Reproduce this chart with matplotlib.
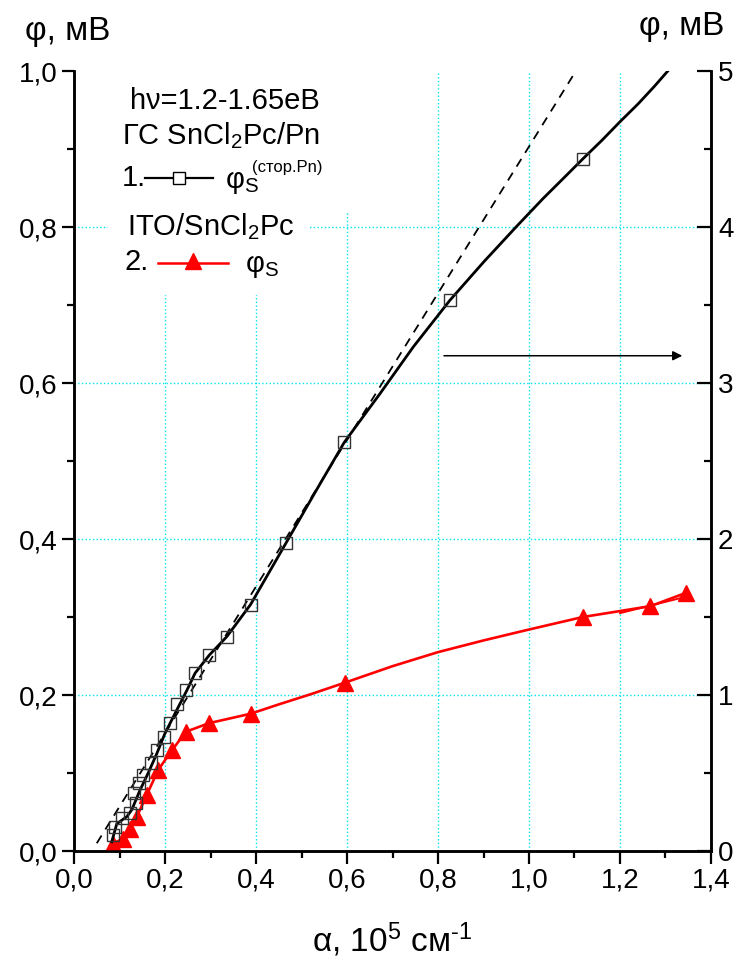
#!/usr/bin/env python3

import matplotlib
import matplotlib.pyplot as plt
from matplotlib.patches import Rectangle
from matplotlib.ticker import MultipleLocator

matplotlib.use('Agg')

plt.rcParams['font.family'] = ['Liberation Sans', 'DejaVu Sans']
plt.rcParams['mathtext.fontset'] = 'custom'
plt.rcParams['mathtext.rm'] = 'Liberation Sans'
plt.rcParams['mathtext.it'] = 'Liberation Sans'

# ряд 1: ГС SnCl2Pc/Pn, правая ось (мВ)
sq_x = [0.086, 0.090, 0.105, 0.123, 0.136, 0.132, 0.143, 0.152, 0.169, 0.182,
        0.198, 0.211, 0.227, 0.246, 0.266, 0.297, 0.336, 0.388, 0.466, 0.594,
        0.826, 1.118]
sq_y = [0.105, 0.155, 0.21, 0.245, 0.31, 0.37, 0.435, 0.485, 0.565, 0.645,
        0.73, 0.82, 0.94, 1.035, 1.14, 1.255, 1.375, 1.58, 1.975, 2.62,
        3.53, 4.436]

# сглаженная кривая ряда 1
fit_x = [0.083, 0.094, 0.116, 0.127, 0.145, 0.163, 0.182, 0.200, 0.226, 0.248,
         0.266, 0.297, 0.336, 0.388, 0.466, 0.530, 0.594, 0.673, 0.746, 0.826,
         0.900, 0.973, 1.030, 1.080, 1.118, 1.160, 1.200, 1.240, 1.275, 1.305]
fit_y = [0.06, 0.175, 0.22, 0.265, 0.39, 0.50, 0.625, 0.755, 0.905, 1.03,
         1.14, 1.255, 1.375, 1.58, 1.975, 2.30, 2.62, 2.934, 3.233, 3.53,
         3.775, 4.005, 4.18, 4.325, 4.436, 4.555, 4.675, 4.79, 4.90, 5.0]

# линейная аппроксимация (пунктир)
lin_x = [0.050, 1.103]
lin_y = [0.05, 5.0]

# ряд 2: ITO/SnCl2Pc, левая ось (мВ)
tri_x = [0.086, 0.108, 0.123, 0.138, 0.160, 0.185, 0.215, 0.246, 0.297, 0.388,
         0.596, 1.118, 1.267, 1.345]
tri_y = [0.0096, 0.016, 0.028, 0.044, 0.072, 0.104, 0.129, 0.153, 0.164, 0.176,
         0.216, 0.300, 0.314, 0.331]

red_x = [0.086, 0.108, 0.123, 0.138, 0.160, 0.185, 0.215, 0.246, 0.297, 0.388,
         0.45, 0.52, 0.596, 0.70, 0.80, 0.90, 1.0, 1.118, 1.267, 1.345]
red_y = [0.0096, 0.016, 0.028, 0.044, 0.072, 0.104, 0.129, 0.153, 0.164, 0.176,
         0.188, 0.201, 0.216, 0.237, 0.255, 0.270, 0.284, 0.300, 0.314, 0.331]
red_tail_x = [1.20, 1.345]
red_tail_y = [0.305, 0.326]

xticks = [0.0, 0.2, 0.4, 0.6, 0.8, 1.0, 1.2, 1.4]
xtick_labels = ["0,0", "0,2", "0,4", "0,6", "0,8", "1,0", "1,2", "1,4"]
yticks = [0.0, 0.2, 0.4, 0.6, 0.8, 1.0]
ytick_labels = ["0,0", "0,2", "0,4", "0,6", "0,8", "1,0"]
y2ticks = [0, 1, 2, 3, 4, 5]
y2tick_labels = ["0", "1", "2", "3", "4", "5"]


def drawChart():
    fig = plt.figure(figsize=(7.41, 9.60), dpi=100)
    fig.subplots_adjust(left=0.0999, right=0.9595, bottom=0.1135, top=0.926)
    ax = fig.add_subplot(111)
    ax2 = ax.twinx()

    ax.set_xlim(0, 1.4)
    ax.set_ylim(0, 1.0)
    ax2.set_ylim(0, 5)

    # сетка
    for x in xticks[1:-1]:
        ax.axvline(x, color='#00e5ee', linestyle=':', lw=1, zorder=0)
    for y in yticks[1:-1]:
        ax.axhline(y, color='#00e5ee', linestyle=':', lw=1, zorder=0)

    # белая подложка под подписью
    ax.add_patch(Rectangle((0.053, 0.818), 0.38, 0.182, transform=ax.transAxes,
                           facecolor='white', edgecolor='none', zorder=1))
    ax.add_patch(Rectangle((0.053, 0.713), 0.317, 0.106, transform=ax.transAxes,
                           facecolor='white', edgecolor='none', zorder=1))

    ax.plot(red_x, red_y, color='red', lw=1.9, zorder=3)
    ax.plot(red_tail_x, red_tail_y, color='red', lw=1.4, zorder=3)
    ax.plot(tri_x, tri_y, linestyle='none', marker='^', color='red', ms=11, zorder=4)

    ax2.plot(lin_x, lin_y, color='black', linestyle=(0, (5, 4)), lw=1.3)
    ax2.plot(fit_x, fit_y, color='black', lw=2.0)
    ax2.plot(sq_x, sq_y, linestyle='none', marker='s', ms=9, mfc='none',
             mec='#333333', mew=1.0)

    ax.annotate("", xy=(1.343, 0.635), xytext=(0.807, 0.635),
                arrowprops=dict(arrowstyle='-|>', color='black', lw=1.1,
                                mutation_scale=14))

    # оси
    for a in (ax, ax2):
        a.spines['top'].set_visible(False)
        for s in ('left', 'right', 'bottom'):
            a.spines[s].set_linewidth(1.8)
    ax.set_xticks(xticks)
    ax.set_xticklabels(xtick_labels)
    ax.set_yticks(yticks)
    ax.set_yticklabels(ytick_labels)
    ax2.set_yticks(y2ticks)
    ax2.set_yticklabels(y2tick_labels)
    ax.xaxis.set_minor_locator(MultipleLocator(0.1))
    ax.yaxis.set_minor_locator(MultipleLocator(0.1))
    ax2.yaxis.set_minor_locator(MultipleLocator(0.5))
    ax.tick_params(which='major', direction='out', length=9, width=1.6,
                   labelsize=20, pad=3)
    ax.tick_params(which='minor', direction='out', length=5, width=1.6)
    ax2.tick_params(which='major', direction='in', length=10, width=1.6,
                    labelsize=20, pad=5)
    ax2.tick_params(which='minor', direction='in', length=5, width=1.6)

    ax.set_xlabel("α, 10$^\\mathrm{5}$ см$^\\mathrm{\u2010 1}$", fontsize=24,
                  labelpad=19)
    fig.text(0.034, 0.967, "φ, мВ", fontsize=24, va='center', ha='left')
    fig.text(0.862, 0.972, "φ, мВ", fontsize=24, va='center', ha='left')

    # подпись-легенда
    t = ax.transAxes
    fs = 21
    ax2.text(0.088, 0.962, "hν=1.2-1.65еВ", transform=t, fontsize=fs, va='center')
    ax2.text(0.075, 0.917, r"ГС SnCl$_\mathrm{2}$Pc/Pn", transform=t, fontsize=fs,
             va='center')
    ax2.text(0.075, 0.863, "1.", transform=t, fontsize=fs, va='center')
    ax2.plot([0.111, 0.218], [0.863, 0.863], transform=t, color='black', lw=1.6)
    ax2.plot([0.165], [0.863], transform=t, marker='s', ms=9, mfc='white',
             mec='black', mew=1.0)
    ax2.text(0.237, 0.858, r"φ$_\mathrm{S}$", transform=t, fontsize=fs, va='center')
    ax2.text(0.28, 0.876, "(стор.Pn)", transform=t, fontsize=12, va='center')
    ax2.text(0.083, 0.800, r"ITO/SnCl$_\mathrm{2}$Pc", transform=t, fontsize=fs,
             va='center')
    ax2.text(0.080, 0.755, "2.", transform=t, fontsize=fs, va='center')
    ax2.plot([0.132, 0.242], [0.754, 0.754], transform=t, color='red', lw=1.8)
    ax2.plot([0.187], [0.756], transform=t, marker='^', ms=11, color='red')
    ax2.text(0.268, 0.750, r"φ$_\mathrm{S}$", transform=t, fontsize=fs, va='center')

    fig.savefig("out.png", dpi=100)


def main():
    drawChart()


if __name__ == "__main__":
    main()
